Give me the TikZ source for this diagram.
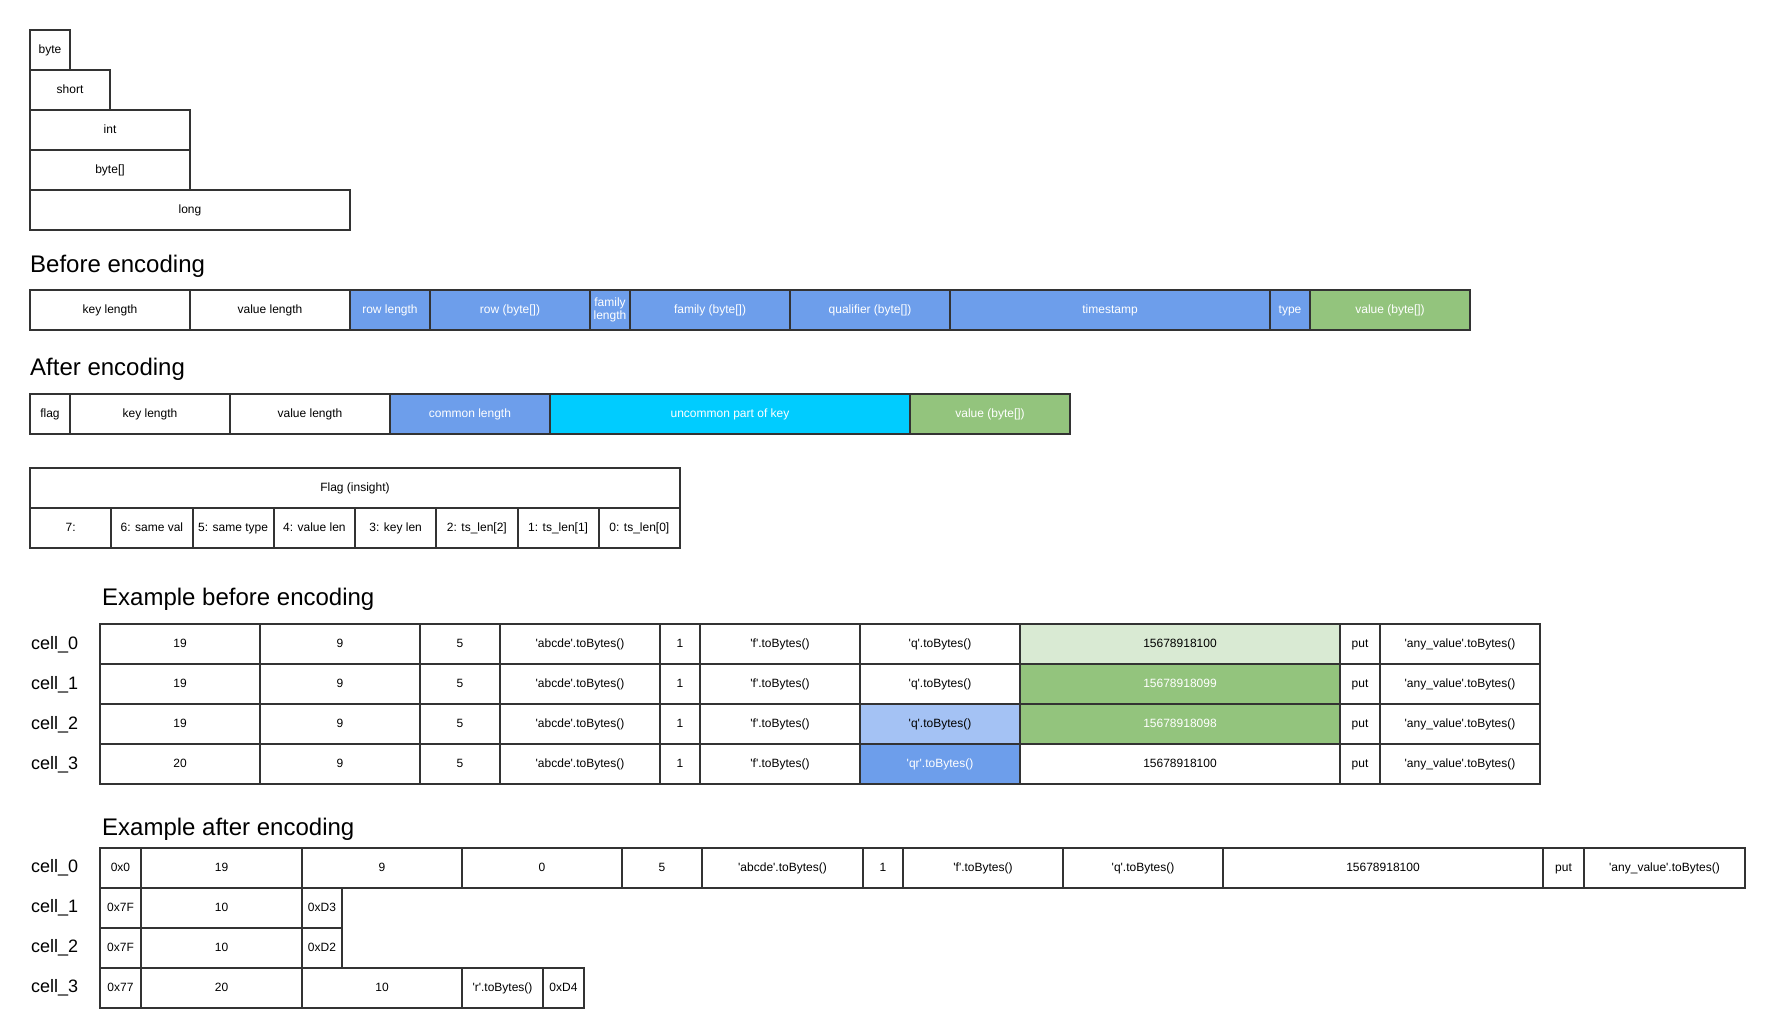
\documentclass[tikz,border=0pt]{standalone}
\usepackage{fontspec}
\setmainfont{Liberation Sans}
\definecolor{bd}{HTML}{333333}
\definecolor{cblue}{HTML}{6D9EEB}
\definecolor{cgreen}{HTML}{93C47D}
\definecolor{ccyan}{HTML}{00CCFF}
\definecolor{clgreen}{HTML}{D9EAD3}
\definecolor{clblue}{HTML}{A4C2F4}
\newcommand\fs{\fontsize{12}{13.5}\selectfont}
\newcommand\sq{\textquotesingle}
\newcommand\cel[6][]{\node[cell,#1,minimum width=#5pt] (#2) at (#3,#4) {#6};}
\tikzset{
  cell/.style={draw=bd, line width=2pt, minimum height=40pt, inner sep=0pt, outer sep=0pt,
    anchor=north west, font=\fs, text=black, fill=white, text height=9pt, text depth=2.5pt},
  twoline/.style={align=center, text height=, text depth=},
  bluec/.style={fill=cblue, text=white},
  greenc/.style={fill=cgreen, text=white},
  cyanc/.style={fill=ccyan, text=white},
  lgreenc/.style={fill=clgreen},
  lbluec/.style={fill=clblue},
  title/.style={anchor=west, inner sep=0pt, font=\fontsize{24}{28}\selectfont},
  rowlab/.style={anchor=west, inner sep=0pt, font=\fontsize{18}{21}\selectfont},
}
\begin{document}
\begin{tikzpicture}[x=1pt,y=-1pt]
\useasboundingbox (0,0) rectangle (1765,1028);
% type sizes
\cel{tb}{30}{30}{40}{byte}
\cel{ts}{30}{70}{80}{short}
\cel{ti}{30}{110}{160}{int}
\cel{tba}{30}{150}{160}{byte[]}
\cel{tl}{30}{190}{320}{long}
% before encoding
\node[title] (tbef) at (30,266) {Before encoding};
\cel{b1}{30}{290}{160}{key length}
\cel{b2}{190}{290}{160}{value length}
\cel[bluec]{b3}{350}{290}{80}{row length}
\cel[bluec]{b4}{430}{290}{160}{row (byte[])}
\cel[bluec,twoline]{b5}{590}{290}{40}{family\\length}
\cel[bluec]{b6}{630}{290}{160}{family (byte[])}
\cel[bluec]{b7}{790}{290}{160}{qualifier (byte[])}
\cel[bluec]{b8}{950}{290}{320}{timestamp}
\cel[bluec]{b9}{1270}{290}{40}{type}
\cel[greenc]{b10}{1310}{290}{160}{value (byte[])}
% after encoding
\node[title] (taft) at (30,369) {After encoding};
\cel{a1}{30}{394}{40}{flag}
\cel{a2}{70}{394}{160}{key length}
\cel{a3}{230}{394}{160}{value length}
\cel[bluec]{a4}{390}{394}{160}{common length}
\cel[cyanc]{a5}{550}{394}{360}{uncommon part of key}
\cel[greenc]{a6}{910}{394}{160}{value (byte[])}
% flag
\cel{fh}{30}{468}{650}{Flag (insight)}
\cel{f7}{30}{508}{81.25}{7:}
\cel{f6}{111.25}{508}{81.25}{6: same val}
\cel{f5}{192.5}{508}{81.25}{5: same type}
\cel{f4}{273.75}{508}{81.25}{4: value len}
\cel{f3}{355}{508}{81.25}{3: key len}
\cel{f2}{436.25}{508}{81.25}{2: ts\_len[2]}
\cel{f1}{517.5}{508}{81.25}{1: ts\_len[1]}
\cel{f0}{598.75}{508}{81.25}{0: ts\_len[0]}
% example before encoding
\node[title] (texb) at (102,599) {Example before encoding};
\node[rowlab] (lb0) at (31,645) {cell\_0};
\node[rowlab] (lb1) at (31,685) {cell\_1};
\node[rowlab] (lb2) at (31,725) {cell\_2};
\node[rowlab] (lb3) at (31,765) {cell\_3};
% row 0
\cel{e0a}{100}{624}{160}{19}
\cel{e0b}{260}{624}{160}{9}
\cel{e0c}{420}{624}{80}{5}
\cel{e0d}{500}{624}{160}{\sq abcde\sq.toBytes()}
\cel{e0e}{660}{624}{40}{1}
\cel{e0f}{700}{624}{160}{\sq f\sq.toBytes()}
\cel{e0g}{860}{624}{160}{\sq q\sq.toBytes()}
\cel[lgreenc]{e0h}{1020}{624}{320}{15678918100}
\cel{e0i}{1340}{624}{40}{put}
\cel{e0j}{1380}{624}{160}{\sq any\_value\sq.toBytes()}
% row 1
\cel{e1a}{100}{664}{160}{19}
\cel{e1b}{260}{664}{160}{9}
\cel{e1c}{420}{664}{80}{5}
\cel{e1d}{500}{664}{160}{\sq abcde\sq.toBytes()}
\cel{e1e}{660}{664}{40}{1}
\cel{e1f}{700}{664}{160}{\sq f\sq.toBytes()}
\cel{e1g}{860}{664}{160}{\sq q\sq.toBytes()}
\cel[greenc]{e1h}{1020}{664}{320}{15678918099}
\cel{e1i}{1340}{664}{40}{put}
\cel{e1j}{1380}{664}{160}{\sq any\_value\sq.toBytes()}
% row 2
\cel{e2a}{100}{704}{160}{19}
\cel{e2b}{260}{704}{160}{9}
\cel{e2c}{420}{704}{80}{5}
\cel{e2d}{500}{704}{160}{\sq abcde\sq.toBytes()}
\cel{e2e}{660}{704}{40}{1}
\cel{e2f}{700}{704}{160}{\sq f\sq.toBytes()}
\cel[lbluec]{e2g}{860}{704}{160}{\sq q\sq.toBytes()}
\cel[greenc]{e2h}{1020}{704}{320}{15678918098}
\cel{e2i}{1340}{704}{40}{put}
\cel{e2j}{1380}{704}{160}{\sq any\_value\sq.toBytes()}
% row 3
\cel{e3a}{100}{744}{160}{20}
\cel{e3b}{260}{744}{160}{9}
\cel{e3c}{420}{744}{80}{5}
\cel{e3d}{500}{744}{160}{\sq abcde\sq.toBytes()}
\cel{e3e}{660}{744}{40}{1}
\cel{e3f}{700}{744}{160}{\sq f\sq.toBytes()}
\cel[bluec]{e3g}{860}{744}{160}{\sq qr\sq.toBytes()}
\cel{e3h}{1020}{744}{320}{15678918100}
\cel{e3i}{1340}{744}{40}{put}
\cel{e3j}{1380}{744}{160}{\sq any\_value\sq.toBytes()}
% example after encoding
\node[title] (texa) at (102,829) {Example after encoding};
\node[rowlab] (la0) at (31,868) {cell\_0};
\node[rowlab] (la1) at (31,908) {cell\_1};
\node[rowlab] (la2) at (31,948) {cell\_2};
\node[rowlab] (la3) at (31,988) {cell\_3};
% row 0
\cel{x0a}{100}{848}{41}{0x0}
\cel{x0b}{141}{848}{161}{19}
\cel{x0c}{302}{848}{160}{9}
\cel{x0d}{462}{848}{160}{0}
\cel{x0e}{622}{848}{80}{5}
\cel{x0f}{702}{848}{161}{\sq abcde\sq.toBytes()}
\cel{x0g}{863}{848}{40}{1}
\cel{x0h}{903}{848}{160}{\sq f\sq.toBytes()}
\cel{x0i}{1063}{848}{160}{\sq q\sq.toBytes()}
\cel{x0j}{1223}{848}{320}{15678918100}
\cel{x0k}{1543}{848}{41}{put}
\cel{x0l}{1584}{848}{161}{\sq any\_value\sq.toBytes()}
% row 1
\cel{x1a}{100}{888}{41}{0x7F}
\cel{x1b}{141}{888}{161}{10}
\cel{x1c}{302}{888}{40}{0xD3}
% row 2
\cel{x2a}{100}{928}{41}{0x7F}
\cel{x2b}{141}{928}{161}{10}
\cel{x2c}{302}{928}{40}{0xD2}
% row 3
\cel{x3a}{100}{968}{41}{0x77}
\cel{x3b}{141}{968}{161}{20}
\cel{x3c}{302}{968}{160}{10}
\cel{x3d}{462}{968}{81}{\sq r\sq.toBytes()}
\cel{x3e}{543}{968}{41}{0xD4}
\end{tikzpicture}
\end{document}
